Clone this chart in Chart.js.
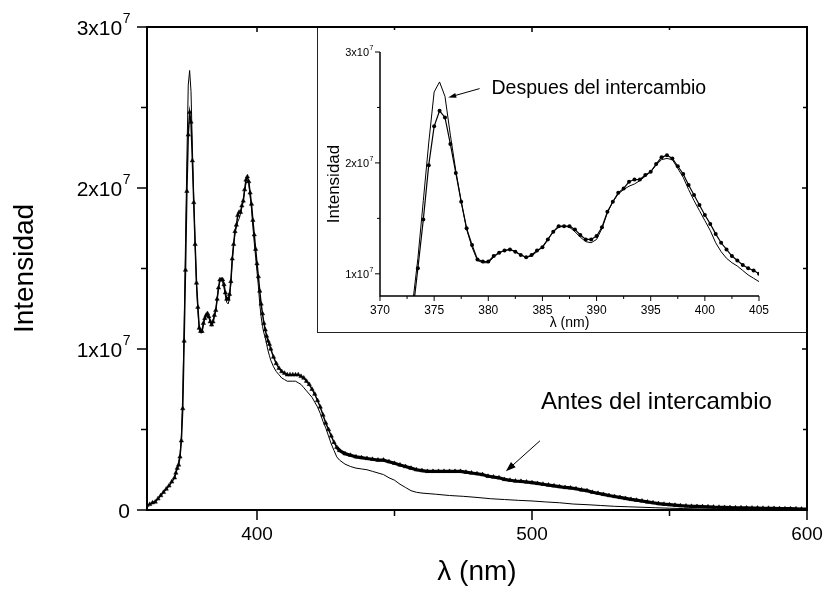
<!DOCTYPE html>
<html>
<head>
<meta charset="utf-8">
<script src="https://cdn.jsdelivr.net/npm/chart.js@4.4.0/dist/chart.umd.min.js"></script>
<style>
  body { margin: 0; background: #fff; }
  #wrap { position: relative; width: 824px; height: 590px; }
  #main { position: absolute; left: 0; top: 0; z-index: 2; }
  #insetBox { position: absolute; left: 317px; top: 27px; width: 490px; height: 305px;
    border-left: 1px solid #222; border-bottom: 1px solid #222; background: #fff; z-index: 1; }
  #inset { position: absolute; left: 0; top: 0; }
</style>
</head>
<body>
<div id="wrap">
  <div id="insetBox"><canvas id="inset" width="490" height="305"></canvas></div>
  <canvas id="main" width="824" height="590"></canvas>
</div>
<script>
"use strict";

const FONT = '"Liberation Sans", Arial, sans-serif';

// Antes del intercambio (marked curve), intensity in units of 1e7
const lamA = [360, 361, 362, 363, 364, 365, 366, 367, 368, 369, 370,
    370.5, 371, 371.5, 372, 372.5, 373, 373.5, 374, 374.5, 375, 375.5, 376, 376.5, 377, 377.5, 378, 378.5, 379, 379.5, 380,
    380.5, 381, 381.5, 382, 382.5, 383, 383.5, 384, 384.5, 385, 385.5, 386, 386.5, 387, 387.5, 388, 388.5, 389, 389.5, 390,
    390.5, 391, 391.5, 392, 392.5, 393, 393.5, 394, 394.5, 395, 395.5, 396, 396.5, 397, 397.5, 398, 398.5, 399, 399.5, 400,
    400.5, 401, 401.5, 402, 402.5, 403, 403.5, 404, 404.5, 405,
    406, 407, 408, 409, 410, 411, 412, 413, 414, 415, 416, 417, 418, 419, 420, 421, 422, 423, 424, 425, 426, 427, 428, 429, 430,
    432, 434, 436, 438, 440, 442, 444, 446, 448, 450, 452, 454, 456, 458, 460, 462, 464, 466, 468, 470,
    472, 474, 476, 478, 480, 482, 484, 486, 488, 490, 492, 494, 496, 498, 500, 502, 504, 506, 508, 510,
    512, 514, 516, 518, 520, 522, 524, 526, 528, 530, 532, 534, 536, 538, 540, 542, 544, 546, 548, 550,
    552, 554, 556, 558, 560, 562, 564, 566, 568, 570, 572, 574, 576, 578, 580, 582, 584, 586, 588, 590,
    592, 594, 596, 598, 600];
const intA = [0.03, 0.035, 0.045, 0.05, 0.07, 0.09, 0.11, 0.13, 0.15, 0.175, 0.20,
    0.23, 0.26, 0.28, 0.33, 0.43, 0.63, 1.05, 1.49, 1.98, 2.33, 2.47, 2.41, 2.17, 1.91, 1.65, 1.41, 1.26, 1.13, 1.11, 1.11,
    1.16, 1.19, 1.21, 1.22, 1.20, 1.17, 1.15, 1.17, 1.21, 1.24, 1.31, 1.38, 1.43, 1.43, 1.43, 1.40, 1.35, 1.31, 1.31, 1.34,
    1.42, 1.56, 1.65, 1.73, 1.77, 1.83, 1.85, 1.85, 1.89, 1.92, 1.99, 2.05, 2.07, 2.04, 1.97, 1.90, 1.80, 1.71, 1.62, 1.53,
    1.45, 1.36, 1.28, 1.22, 1.16, 1.12, 1.08, 1.05, 1.03, 1.00,
    0.95, 0.91, 0.88, 0.86, 0.85, 0.84, 0.84, 0.84, 0.84, 0.84, 0.83, 0.82, 0.80, 0.78, 0.75, 0.72, 0.68, 0.64, 0.59, 0.54, 0.50, 0.46, 0.42, 0.39, 0.37,
    0.35, 0.34, 0.33, 0.325, 0.32, 0.315, 0.31, 0.31, 0.30, 0.29, 0.28, 0.27, 0.26, 0.25, 0.245, 0.24, 0.24, 0.24, 0.24, 0.24,
    0.24, 0.24, 0.235, 0.23, 0.225, 0.22, 0.21, 0.205, 0.20, 0.19, 0.185, 0.18, 0.178, 0.174, 0.17, 0.165, 0.16, 0.155, 0.15, 0.145,
    0.14, 0.137, 0.132, 0.125, 0.12, 0.11, 0.104, 0.097, 0.09, 0.084, 0.078, 0.072, 0.066, 0.061, 0.056, 0.05, 0.045, 0.04, 0.036, 0.033,
    0.03, 0.027, 0.025, 0.023, 0.022, 0.021, 0.02, 0.018, 0.017, 0.016, 0.015, 0.014, 0.014, 0.013, 0.012, 0.012, 0.011, 0.011, 0.01, 0.009,
    0.008, 0.008, 0.007, 0.006, 0.006];

// Despues del intercambio (thin curve)
const lamB = [360, 362, 364, 366, 368, 370, 371, 372,
    372.5, 373, 373.5, 374, 374.5, 375, 375.5, 376, 376.5, 377, 377.5, 378, 378.5, 379, 379.5, 380,
    380.5, 381, 381.5, 382, 382.5, 383, 383.5, 384, 384.5, 385, 385.5, 386, 386.5, 387, 387.5, 388, 388.5, 389, 389.5, 390,
    390.5, 391, 391.5, 392, 392.5, 393, 393.5, 394, 394.5, 395, 395.5, 396, 396.5, 397, 397.5, 398, 398.5, 399, 399.5, 400,
    400.5, 401, 401.5, 402, 402.5, 403, 403.5, 404, 404.5, 405,
    406, 407, 408, 409, 410, 411, 412, 413, 414, 415, 416, 417, 418, 419, 420, 421, 422, 423, 424, 425, 426, 427, 428, 429, 430,
    432, 434, 436, 438, 440, 442, 444, 446, 448, 450, 452, 454, 456, 458, 460,
    465, 470, 475, 480, 485, 490, 495, 500, 505, 510, 515, 520, 525, 530, 535, 540, 545, 550, 555, 560,
    570, 580, 590, 600];
const intB = [0.03, 0.045, 0.07, 0.11, 0.15, 0.20, 0.26, 0.34,
    0.46, 0.72, 1.14, 1.66, 2.18, 2.64, 2.73, 2.60, 2.25, 1.93, 1.65, 1.40, 1.24, 1.12, 1.10, 1.10,
    1.15, 1.19, 1.21, 1.22, 1.20, 1.17, 1.15, 1.16, 1.20, 1.24, 1.31, 1.38, 1.42, 1.43, 1.42, 1.38, 1.33, 1.29, 1.28, 1.31,
    1.41, 1.55, 1.65, 1.72, 1.76, 1.79, 1.81, 1.84, 1.88, 1.92, 1.98, 2.03, 2.04, 2.03, 1.95, 1.87, 1.76, 1.66, 1.57, 1.48,
    1.39, 1.28, 1.20, 1.14, 1.10, 1.07, 1.03, 0.99, 0.96, 0.93,
    0.89, 0.86, 0.84, 0.82, 0.81, 0.80, 0.80, 0.80, 0.80, 0.79, 0.78, 0.76, 0.74, 0.72, 0.70, 0.67, 0.64, 0.60, 0.55, 0.51, 0.46, 0.41, 0.37, 0.33, 0.31,
    0.285, 0.27, 0.26, 0.255, 0.25, 0.24, 0.23, 0.22, 0.20, 0.185, 0.16, 0.14, 0.12, 0.11, 0.105,
    0.098, 0.09, 0.085, 0.078, 0.07, 0.065, 0.06, 0.056, 0.05, 0.045, 0.037, 0.033, 0.028, 0.023, 0.02, 0.017, 0.014, 0.011, 0.009, 0.007,
    0.005, 0.004, 0.003, 0.002];

// ticks
const xMajor = [400, 500, 600];
const xMinor = [450, 550];
const yMajor = [0, 1, 2, 3];
const yMinor = [0.5, 1.5, 2.5];
const inXMajor = [370, 375, 380, 385, 390, 395, 400, 405];
const inXMinor = [372.5, 377.5, 382.5, 387.5, 392.5, 397.5, 402.5];
const inYMajor = [1, 2, 3];
const inYMinor = [1.5, 2.5];

function pts(xs, ys) {
    return xs.map((v, i) => ({ x: v, y: ys[i] }));
}

function powLabel(ctx, value, xRight, yc, base, sup) {
    ctx.textAlign = 'left';
    ctx.textBaseline = 'alphabetic';
    ctx.fillStyle = '#000';
    ctx.font = base + 'px ' + FONT;
    if (value === 0) {
        const w0 = ctx.measureText('0').width;
        ctx.fillText('0', xRight - w0, yc + base * 0.358);
        return;
    }
    const txt = value + 'x10';
    const w1 = ctx.measureText(txt).width;
    ctx.font = sup + 'px ' + FONT;
    const w2 = ctx.measureText('7').width;
    const x0 = xRight - w1 - w2;
    ctx.font = base + 'px ' + FONT;
    ctx.fillText(txt, x0, yc + base * 0.358);
    ctx.font = sup + 'px ' + FONT;
    ctx.fillText('7', x0 + w1 + 0.5, yc - base * 0.358 + sup * 0.25);
}

function arrow(ctx, x1, y1, x2, y2, len, half) {
    const ang = Math.atan2(y2 - y1, x2 - x1);
    ctx.beginPath();
    ctx.moveTo(x1, y1);
    ctx.lineTo(x2 - Math.cos(ang) * len * 0.6, y2 - Math.sin(ang) * len * 0.6);
    ctx.stroke();
    ctx.beginPath();
    ctx.moveTo(x2, y2);
    ctx.lineTo(x2 - Math.cos(ang) * len - Math.sin(ang) * half, y2 - Math.sin(ang) * len + Math.cos(ang) * half);
    ctx.lineTo(x2 - Math.cos(ang) * len + Math.sin(ang) * half, y2 - Math.sin(ang) * len - Math.cos(ang) * half);
    ctx.closePath();
    ctx.fill();
}

const mainDecor = {
    id: 'mainDecor',
    afterDraw(chart) {
        const { ctx, chartArea: a, scales: { x, y } } = chart;
        ctx.save();
        ctx.strokeStyle = '#000';
        ctx.fillStyle = '#000';
        ctx.lineWidth = 2;
        ctx.strokeRect(a.left, a.top, a.right - a.left, a.bottom - a.top);

        ctx.lineWidth = 1.5;
        ctx.beginPath();
        xMajor.forEach(v => {
            const p = x.getPixelForValue(v);
            ctx.moveTo(p, a.bottom); ctx.lineTo(p, a.bottom + 10);
            ctx.moveTo(p, a.top); ctx.lineTo(p, a.top + 5);
        });
        xMinor.forEach(v => {
            const p = x.getPixelForValue(v);
            ctx.moveTo(p, a.bottom); ctx.lineTo(p, a.bottom + 6);
            ctx.moveTo(p, a.top); ctx.lineTo(p, a.top + 3);
        });
        yMajor.forEach(v => {
            const p = y.getPixelForValue(v);
            ctx.moveTo(a.left, p); ctx.lineTo(a.left - 10, p);
            ctx.moveTo(a.right, p); ctx.lineTo(a.right - 5, p);
        });
        yMinor.forEach(v => {
            const p = y.getPixelForValue(v);
            ctx.moveTo(a.left, p); ctx.lineTo(a.left - 6, p);
            ctx.moveTo(a.right, p); ctx.lineTo(a.right - 4, p);
        });
        ctx.stroke();

        yMajor.forEach(v => powLabel(ctx, v, a.left - 17, y.getPixelForValue(v), 21, 14));

        // annotation
        ctx.font = '24px ' + FONT;
        ctx.textAlign = 'left';
        ctx.textBaseline = 'alphabetic';
        ctx.fillText('Antes del intercambio', x.getPixelForValue(503.3), y.getPixelForValue(0.63));
        ctx.lineWidth = 1;
        arrow(ctx, x.getPixelForValue(502.9), y.getPixelForValue(0.43),
            x.getPixelForValue(490.5), y.getPixelForValue(0.24), 10, 3.5);
        ctx.restore();
    }
};

const insetDecor = {
    id: 'insetDecor',
    afterDraw(chart) {
        const { ctx, chartArea: a, scales: { x, y } } = chart;
        ctx.save();
        ctx.strokeStyle = '#000';
        ctx.fillStyle = '#000';
        ctx.lineWidth = 1.5;
        ctx.beginPath();
        ctx.moveTo(a.left, a.top); ctx.lineTo(a.left, a.bottom); ctx.lineTo(a.right, a.bottom);
        ctx.stroke();

        ctx.lineWidth = 1;
        ctx.beginPath();
        inXMajor.forEach(v => {
            const p = x.getPixelForValue(v);
            ctx.moveTo(p, a.bottom); ctx.lineTo(p, a.bottom + 5);
        });
        inXMinor.forEach(v => {
            const p = x.getPixelForValue(v);
            ctx.moveTo(p, a.bottom); ctx.lineTo(p, a.bottom + 3);
        });
        inYMajor.forEach(v => {
            const p = y.getPixelForValue(v);
            ctx.moveTo(a.left, p); ctx.lineTo(a.left - 5, p);
        });
        inYMinor.forEach(v => {
            const p = y.getPixelForValue(v);
            ctx.moveTo(a.left, p); ctx.lineTo(a.left - 3, p);
        });
        ctx.stroke();

        inYMajor.forEach(v => powLabel(ctx, v, a.left - 7, y.getPixelForValue(v), 11, 7));

        // y title of the inset, set a bit below the middle as in the original
        ctx.save();
        ctx.translate(16, y.getPixelForValue(1.81));
        ctx.rotate(-Math.PI / 2);
        ctx.font = '17px ' + FONT;
        ctx.textAlign = 'center';
        ctx.textBaseline = 'middle';
        ctx.fillText('Intensidad', 0, 0);
        ctx.restore();

        ctx.font = '19.5px ' + FONT;
        ctx.textAlign = 'left';
        ctx.textBaseline = 'alphabetic';
        ctx.fillText('Despues del intercambio', x.getPixelForValue(380.3), y.getPixelForValue(2.62));
        ctx.lineWidth = 1;
        arrow(ctx, x.getPixelForValue(379.2), y.getPixelForValue(2.67),
            x.getPixelForValue(376.3), y.getPixelForValue(2.59), 8, 2.5);
        ctx.restore();
    }
};

new Chart(document.getElementById('main'), {
    type: 'scatter',
    data: {
        datasets: [
            { label: 'Despues del intercambio', data: pts(lamB, intB), showLine: true,
              borderColor: '#000', borderWidth: 1, pointRadius: 0 },
            { label: 'Antes del intercambio', data: pts(lamA, intA), showLine: true,
              borderColor: '#000', borderWidth: 1.5, pointStyle: 'triangle', pointRadius: 2.5,
              pointBackgroundColor: '#000', pointBorderColor: '#000', pointBorderWidth: 0.5,
              segment: { borderWidth: c => c.p0.parsed.x >= 429 ? 3.2 : 1.5 } }
        ]
    },
    options: {
        responsive: false,
        animation: false,
        layout: { padding: { top: 27, right: 17, left: 0, bottom: 0 } },
        plugins: { legend: { display: false }, tooltip: { enabled: false } },
        scales: {
            x: {
                type: 'linear', min: 360, max: 600,
                grid: { display: false, drawTicks: false }, border: { display: false },
                ticks: { stepSize: 50, padding: 13, color: '#000', maxRotation: 0, autoSkip: false,
                         font: { family: FONT, size: 19 },
                         callback: v => xMajor.includes(v) ? String(v) : '' },
                title: { display: true, text: 'λ (nm)', color: '#000',
                         font: { family: FONT, size: 28 }, padding: { top: 0, bottom: 1 } },
                afterFit: s => { s.height = 80; s.paddingLeft = 0; s.paddingRight = 0; }
            },
            y: {
                min: 0, max: 3,
                grid: { display: false, drawTicks: false }, border: { display: false },
                ticks: { display: false },
                title: { display: true, text: 'Intensidad', color: '#000',
                         font: { family: FONT, size: 28 }, padding: { top: 8, bottom: 0 } },
                afterFit: s => { s.width = 147; s.paddingTop = 0; s.paddingBottom = 0; }
            }
        }
    },
    plugins: [mainDecor]
});

new Chart(document.getElementById('inset'), {
    type: 'scatter',
    data: {
        datasets: [
            { label: 'Despues del intercambio', data: pts(lamB, intB), showLine: true,
              borderColor: '#000', borderWidth: 1, pointRadius: 0 },
            { label: 'Antes del intercambio', data: pts(lamA, intA), showLine: true,
              borderColor: '#000', borderWidth: 1.2, pointStyle: 'circle', pointRadius: 2,
              pointBackgroundColor: '#000', pointBorderColor: '#000', pointBorderWidth: 0 }
        ]
    },
    options: {
        responsive: false,
        animation: false,
        layout: { padding: { top: 25, right: 49, left: 0, bottom: 0 } },
        plugins: { legend: { display: false }, tooltip: { enabled: false } },
        scales: {
            x: {
                type: 'linear', min: 370, max: 405,
                grid: { display: false, drawTicks: false }, border: { display: false },
                ticks: { stepSize: 2.5, padding: 7, color: '#000', maxRotation: 0, autoSkip: false,
                         font: { family: FONT, size: 12 },
                         callback: v => inXMajor.includes(v) ? String(v) : '' },
                title: { display: true, text: 'λ (nm)', color: '#000',
                         font: { family: FONT, size: 14 }, padding: { top: 0, bottom: 0 } },
                afterFit: s => { s.height = 36; s.paddingLeft = 0; s.paddingRight = 0; }
            },
            y: {
                min: 0.8, max: 3,
                grid: { display: false, drawTicks: false }, border: { display: false },
                ticks: { display: false },
                afterFit: s => { s.width = 62; s.paddingTop = 0; s.paddingBottom = 0; }
            }
        }
    },
    plugins: [insetDecor]
});
</script>
</body>
</html>
